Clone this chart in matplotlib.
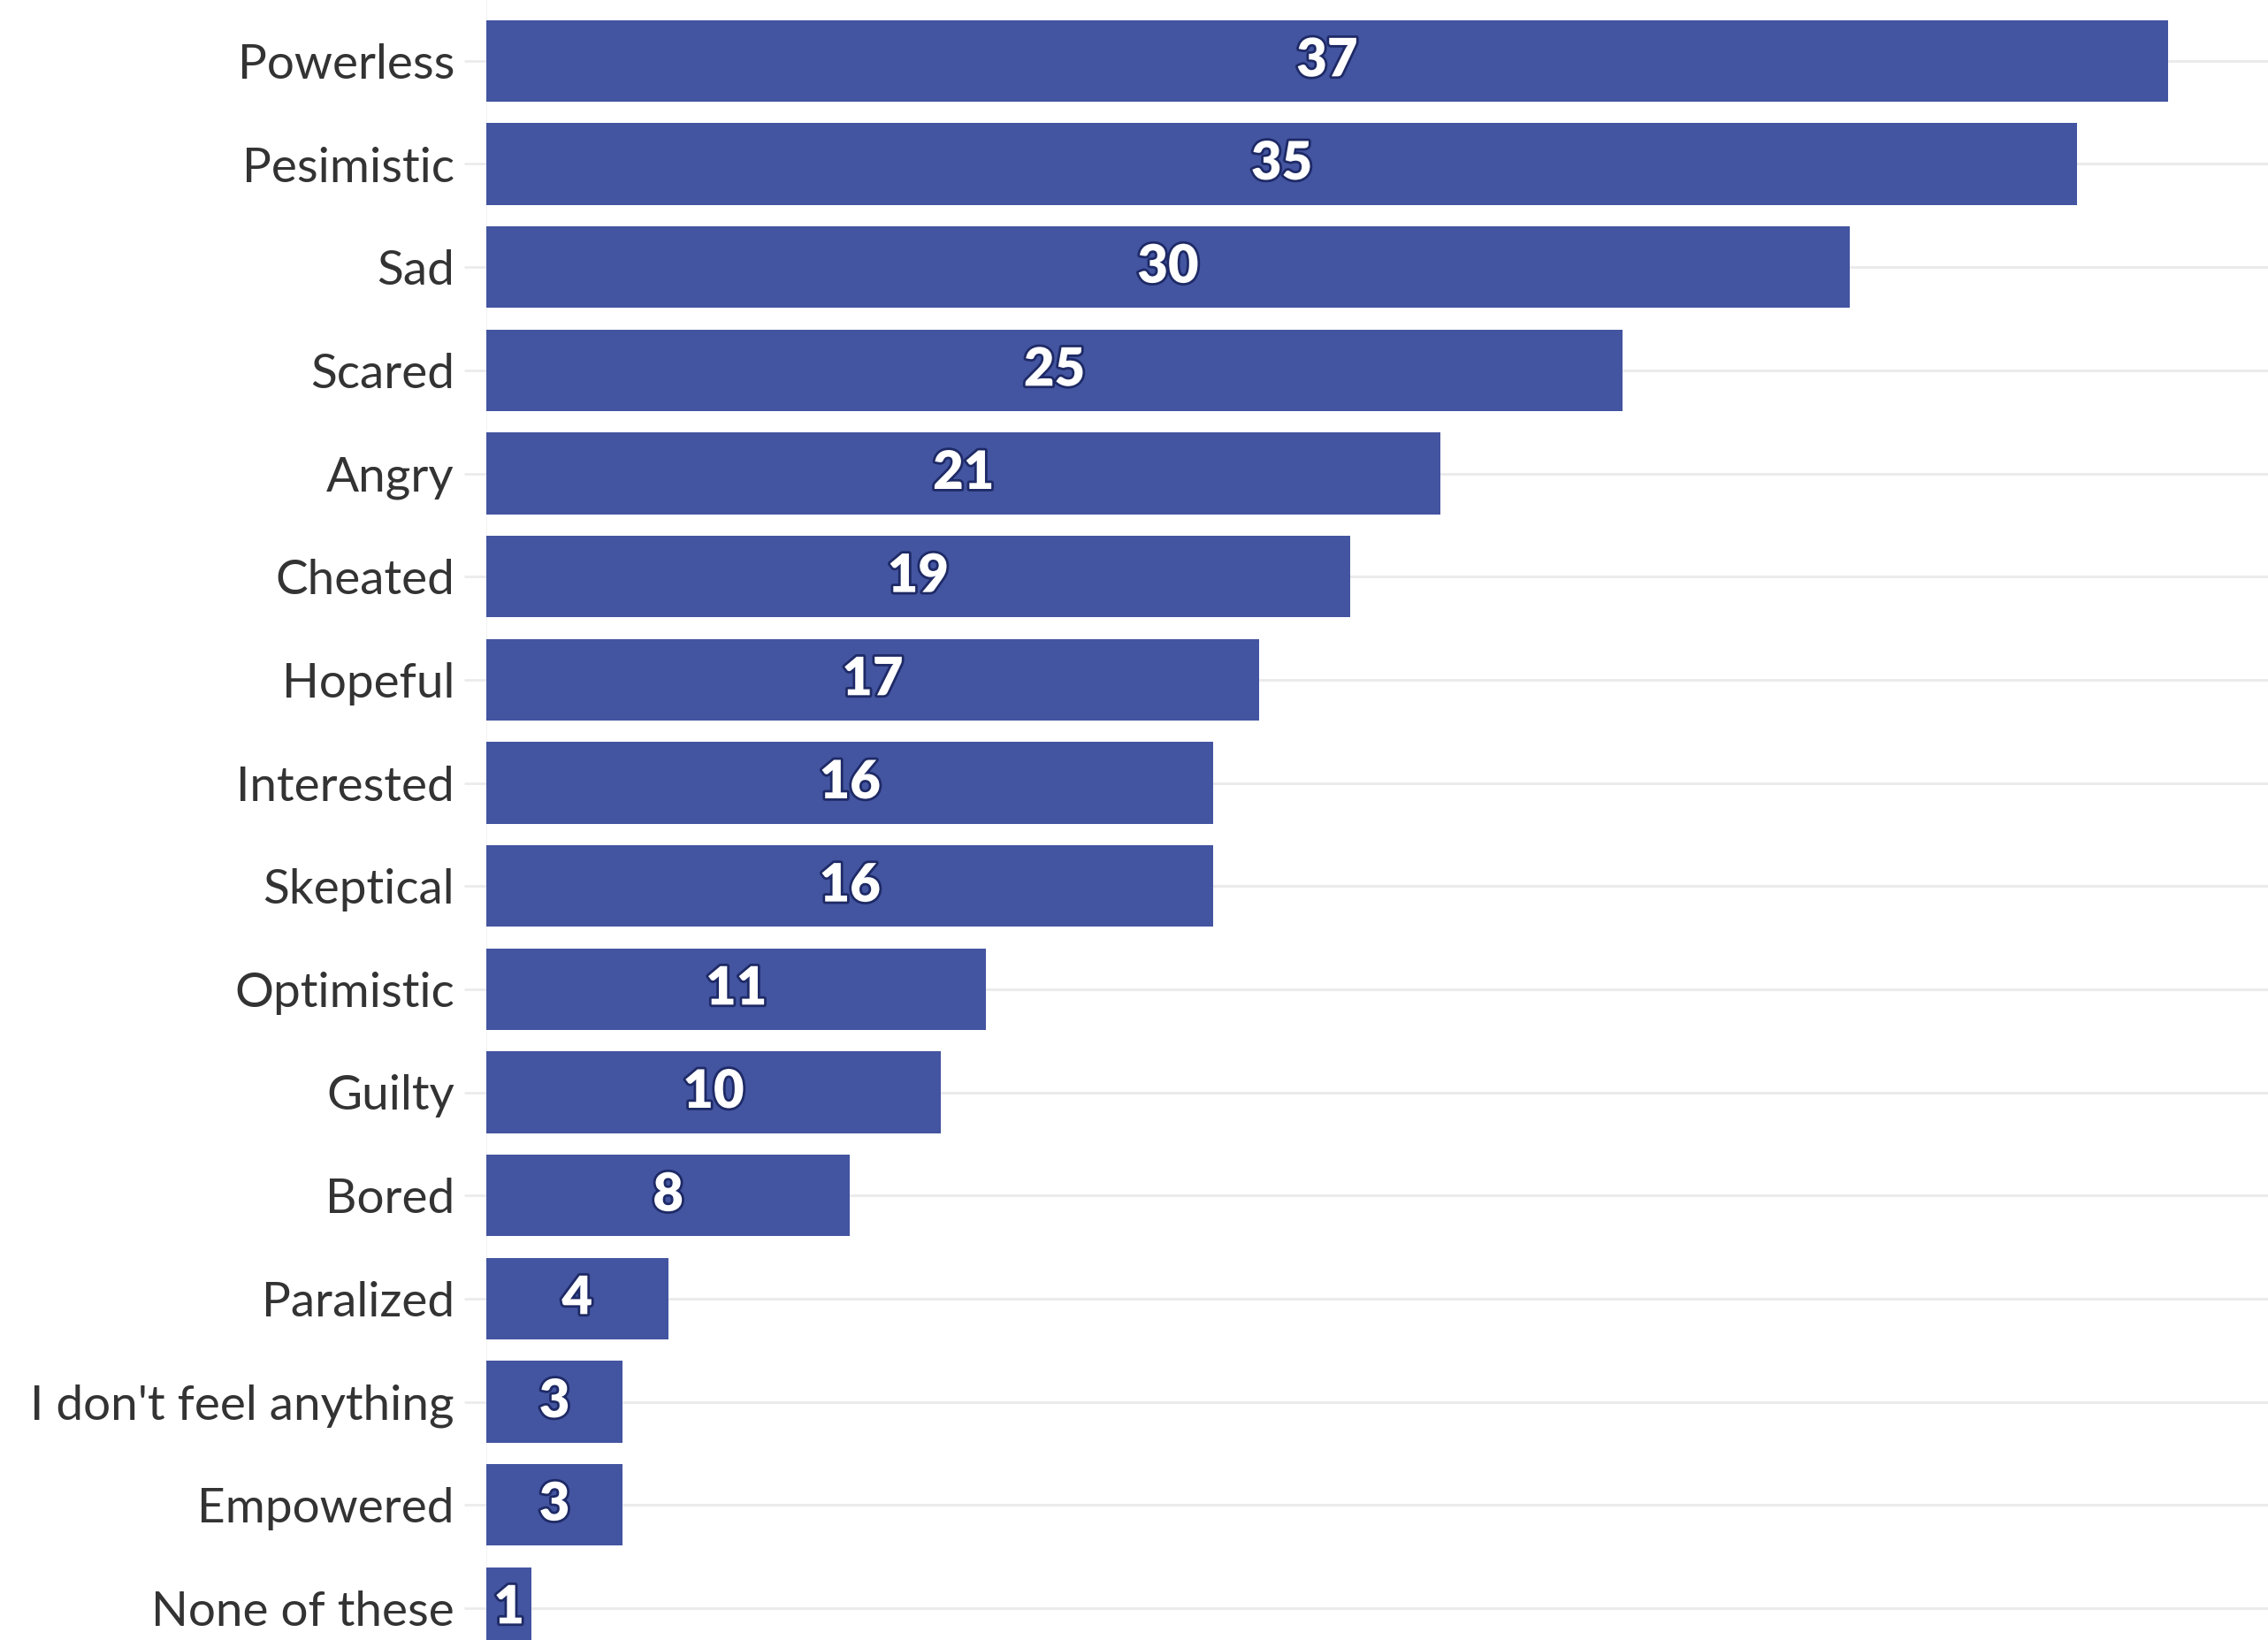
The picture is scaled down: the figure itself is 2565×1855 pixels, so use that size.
import matplotlib
matplotlib.use("Agg")
import matplotlib.pyplot as plt
import matplotlib.patheffects as pe

categories = ["Powerless", "Pesimistic", "Sad", "Scared", "Angry", "Cheated",
              "Hopeful", "Interested", "Skeptical", "Optimistic", "Guilty",
              "Bored", "Paralized", "I don't feel anything", "Empowered",
              "None of these"]
values = [37, 35, 30, 25, 21, 19, 17, 16, 16, 11, 10, 8, 4, 3, 3, 1]

BAR_COLOR = "#4354a0"
GRID_COLOR = "#ebebeb"
LABEL_COLOR = "#333333"

plt.rcParams['font.family'] = ['Lato', 'DejaVu Sans']

fig = plt.figure(figsize=(25.65, 18.55), dpi=100)
ax = fig.add_axes([550 / 2565, 0.0, 1 - 550 / 2565, 1.0])

ypos = list(range(len(categories)))
ax.barh(ypos, values, height=0.79, color=BAR_COLOR, zorder=3)

ax.set_xlim(0, 39.2)
ax.set_ylim(15.31, -0.59)

ax.set_yticks(ypos)
ax.set_yticklabels(categories, fontsize=39.5, color=LABEL_COLOR)
ax.tick_params(axis='y', length=18, width=2, color=GRID_COLOR, pad=8)
ax.set_xticks([])

for y in ypos:
    ax.axhline(y, color=GRID_COLOR, linewidth=2.2, zorder=1)
ax.axvline(0, color="#f3f3f3", linewidth=1.5, zorder=2)

for s in ax.spines.values():
    s.set_visible(False)

for y, v in zip(ypos, values):
    ax.text(v / 2, y, str(v), ha='center', va='center', fontsize=43,
            fontweight='heavy', color='white', zorder=4,
            path_effects=[pe.Stroke(linewidth=4, foreground='#1e2a66'), pe.Normal()])

fig.savefig("out.png", dpi=100, facecolor='white')
